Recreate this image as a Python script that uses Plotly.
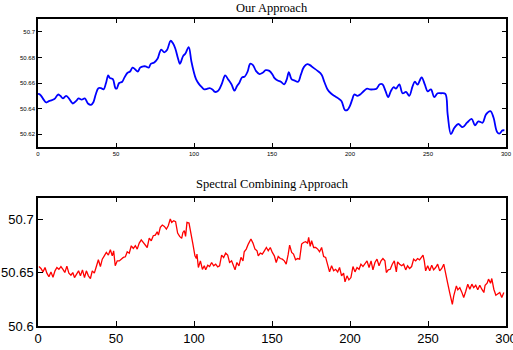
import plotly.graph_objects as go

# ---- Data ----
ours_x = [0, 0.6, 2, 3.6, 5.3, 7, 9, 11, 12.8, 14.3, 16, 18, 19.8, 22.3, 24.5, 26, 28, 30, 32, 34,
          35.5, 37, 38.7, 40.4, 42, 43.6, 45, 46, 48, 49.6, 50.4, 52, 54, 55.3, 57.4, 59, 60.6, 62,
          64, 65.5, 67.5, 69, 71, 72.3, 74.5, 76.6, 77, 79, 81, 82.8, 85, 86.5, 88, 89.8, 91, 93,
          94.5, 96.6, 98.3, 99.8, 101.3, 103, 105, 106.6, 108, 110, 111.8, 113.5, 115.6, 118, 120,
          121.8, 124, 126, 127.5, 129, 130.8, 132.5, 134.4, 136, 137.8, 139.7, 142, 144, 146, 148.3,
          150.4, 151.5, 153.6, 155.7, 157.8, 159.4, 160.8, 162.5, 164.3, 166.8, 168.5, 170.4, 172.6,
          174.3, 176.4, 179.2, 181.8, 183.5, 185.6, 187.7, 189.9, 192.5, 194.6, 196.7, 198.4, 199.9,
          201.4, 202.7, 204.8, 207, 209.1, 211, 212.7, 214.8, 217, 219.1, 220.8, 222.8, 224.5, 226.3,
          228, 229.5, 231.6, 233.7, 235.9, 238, 240.1, 241.6, 243.3, 245.9, 248, 249.8, 251.9, 254,
          256.2, 258.3, 261.1, 262.6, 264.7, 266.9, 269.4, 272.2, 275, 278, 280.1, 282.3, 285, 287.2,
          290, 292, 294.2, 295.7, 297.8, 299]
ours_y = [50.651, 50.6515, 50.650, 50.647, 50.6448, 50.6458, 50.6466, 50.648, 50.651, 50.650, 50.648,
          50.650, 50.648, 50.644, 50.646, 50.648, 50.647, 50.648, 50.644, 50.643, 50.645, 50.651,
          50.656, 50.656, 50.655, 50.660, 50.666, 50.664, 50.663, 50.656, 50.6556, 50.660, 50.661,
          50.664, 50.668, 50.669, 50.672, 50.671, 50.669, 50.672, 50.673, 50.673, 50.672, 50.675,
          50.676, 50.679, 50.680, 50.686, 50.684, 50.686, 50.693, 50.691, 50.687, 50.679, 50.675,
          50.681, 50.683, 50.688, 50.677, 50.669, 50.663, 50.6595, 50.6567, 50.655, 50.6553, 50.656,
          50.655, 50.653, 50.654, 50.660, 50.666, 50.663, 50.659, 50.654, 50.6575, 50.660, 50.6644,
          50.665, 50.669, 50.675, 50.674, 50.6695, 50.667, 50.668, 50.670, 50.6695, 50.6665, 50.664,
          50.662, 50.661, 50.659, 50.6626, 50.6685, 50.663, 50.662, 50.661, 50.6665, 50.6724, 50.6747,
          50.674, 50.672, 50.6695, 50.6665, 50.661, 50.655, 50.652, 50.650, 50.648, 50.6458, 50.639,
          50.639, 50.642, 50.647, 50.651, 50.650, 50.6515, 50.654, 50.6556, 50.655, 50.655, 50.6556,
          50.659, 50.659, 50.6536, 50.649, 50.654, 50.6567, 50.6556, 50.659, 50.652, 50.653, 50.650,
          50.6574, 50.661, 50.6587, 50.6644, 50.6587, 50.6535, 50.655, 50.649, 50.652, 50.652,
          50.6515, 50.6355, 50.620, 50.625, 50.628, 50.6255, 50.629, 50.632, 50.627, 50.630, 50.629,
          50.6355, 50.638, 50.633, 50.622, 50.6205, 50.623, 50.623]

spec_x = [0.6, 1.9, 3.2, 4.5, 5.7, 7, 8.3, 9.6, 10.9, 12.1, 13.4, 14.7, 16, 17.2, 18.5, 19.8, 21.1,
          22.3, 23.4, 24.7, 26, 27.2, 28.5, 29.8, 31, 32.3, 33.6, 34.8, 36.1, 37.4, 38.7, 40, 41.2,
          42.5, 43.8, 45.1, 46.4, 47.6, 48.5, 49.5, 50.8, 52.1, 53.4, 54.7, 56, 57.2, 58.5, 59.8,
          61.1, 62.4, 63.6, 64.9, 66.2, 67.5, 68.7, 70, 71.3, 72.6, 73.9, 75.2, 76.4, 77.2, 78.4,
          79.7, 81, 82.3, 83.5, 84.8, 85.7, 87, 88.2, 89.5, 90.8, 92.1, 92.9, 93.8, 94.6, 95.5, 96.8,
          98, 99.3, 100.6, 101.5, 101.9, 102.8, 104.1, 105.4, 106.6, 107.5, 108.8, 110, 111.3, 112.6,
          113.9, 115.2, 116.4, 117.7, 119, 120.3, 121.6, 122.8, 124.1, 125, 126.3, 127.5, 128.8,
          130.1, 131.4, 132.2, 133.5, 134.8, 136.5, 137.8, 139.1, 140.4, 141.2, 142.5, 143.8, 145.1,
          146.4, 147.6, 148.9, 150.2, 151.5, 152.7, 154, 155.3, 156.6, 157.9, 159.1, 160.4, 161.3,
          162.6, 163.8, 165.1, 166.4, 167.7, 169, 170.2, 171.5, 172.8, 173.5, 174.5, 175.4, 176.7,
          178, 179.3, 180.5, 181.8, 183.1, 184.4, 185.7, 186.9, 188.2, 189.5, 190.8, 192.1, 193.3,
          194.6, 195.9, 196.8, 198.1, 199.3, 200.6, 201.9, 203.2, 204.5, 205.8, 207, 208.3, 209.6,
          210.9, 212.2, 213.5, 214.7, 216, 217.3, 218.6, 219.9, 221.1, 222.4, 223.3, 224.5, 225.8,
          227.1, 228.4, 229.7, 230.5, 231.8, 233.1, 234.4, 235.7, 236.9, 238.2, 239.5, 240.8, 242.1,
          243.3, 244.6, 245.9, 246.8, 247.6, 248.5, 249.8, 251.1, 252.4, 253.6, 254.9, 256.2, 257.5,
          258.8, 260.1, 261.4, 262.6, 263.9, 264.8, 265.6, 266.5, 267.3, 268.2, 269.1, 270.4, 271.6,
          272.9, 274.2, 275.5, 276.8, 278.1, 279.3, 280.6, 281.9, 283.2, 284.5, 285.8, 286.6, 287.9,
          288.8, 290.1, 290.9, 292.2, 293.5, 294.8, 296, 297.3, 298.6]
spec_y = [50.6556, 50.6538, 50.6506, 50.6547, 50.6494, 50.646, 50.6506, 50.6456, 50.6516, 50.6547,
          50.653, 50.6556, 50.653, 50.650, 50.656, 50.6494, 50.6475, 50.650, 50.6453, 50.6484,
          50.6516, 50.6469, 50.6525, 50.6453, 50.6516, 50.6469, 50.6444, 50.6516, 50.6494, 50.6556,
          50.6619, 50.6556, 50.6625, 50.6656, 50.6688, 50.6663, 50.6713, 50.6656, 50.6703, 50.6563,
          50.6609, 50.6609, 50.6625, 50.6641, 50.6647, 50.6694, 50.6681, 50.675, 50.6725, 50.675,
          50.6719, 50.6775, 50.6806, 50.6781, 50.675, 50.6734, 50.6822, 50.6797, 50.6844, 50.685,
          50.6881, 50.685, 50.6922, 50.6944, 50.6931, 50.6906, 50.6938, 50.700, 50.6969, 50.6984,
          50.6975, 50.6869, 50.6838, 50.6819, 50.6875, 50.6891, 50.6838, 50.6969, 50.6963, 50.685,
          50.6766, 50.6656, 50.6631, 50.6672, 50.6547, 50.6609, 50.653, 50.6563, 50.6525, 50.6569,
          50.6556, 50.6594, 50.6563, 50.6578, 50.6553, 50.6563, 50.6663, 50.6641, 50.6681, 50.6663,
          50.6594, 50.6609, 50.6569, 50.6525, 50.6594, 50.6563, 50.6641, 50.6609, 50.6694, 50.6719,
          50.6766, 50.6813, 50.6775, 50.6719, 50.6703, 50.6656, 50.6681, 50.6672, 50.6703, 50.6734,
          50.6703, 50.6734, 50.6688, 50.6656, 50.6594, 50.665, 50.6631, 50.6625, 50.6609, 50.6578,
          50.6672, 50.6756, 50.6688, 50.6672, 50.6619, 50.6631, 50.6625, 50.6766, 50.6781, 50.6788,
          50.6775, 50.6828, 50.6744, 50.6797, 50.6734, 50.6734, 50.6719, 50.6694, 50.6734, 50.665,
          50.6641, 50.6569, 50.6506, 50.6563, 50.6516, 50.653, 50.6506, 50.6547, 50.6469, 50.6494,
          50.6413, 50.6469, 50.6431, 50.6453, 50.6556, 50.6506, 50.6547, 50.653, 50.6578, 50.6556,
          50.6578, 50.6609, 50.6547, 50.6609, 50.6525, 50.6594, 50.6625, 50.6563, 50.6609, 50.6631,
          50.6609, 50.650, 50.6525, 50.653, 50.6578, 50.6609, 50.6506, 50.660, 50.6578, 50.6563,
          50.6578, 50.6525, 50.6563, 50.6538, 50.6556, 50.6625, 50.6609, 50.6631, 50.6619, 50.665,
          50.6663, 50.6609, 50.6516, 50.6563, 50.6516, 50.6569, 50.6525, 50.6547, 50.6578, 50.6516,
          50.6538, 50.6578, 50.650, 50.640, 50.6313, 50.625, 50.6203, 50.6281, 50.6338, 50.6375,
          50.6338, 50.6359, 50.6319, 50.6266, 50.6325, 50.6391, 50.6344, 50.6391, 50.6359, 50.6381,
          50.6338, 50.6381, 50.6344, 50.6313, 50.6381, 50.640, 50.6438, 50.640, 50.6444, 50.6344,
          50.6288, 50.6306, 50.6313, 50.6266, 50.6313]

top_title = "Our Approach"
bottom_title = "Spectral Combining Approach"
x_ticks = [0, 50, 100, 150, 200, 250, 300]
top_y_ticks = [50.62, 50.64, 50.66, 50.68, 50.7]
top_y_labels = ["50.62", "50.64", "50.66", "50.68", "50.7"]
bottom_y_ticks = [50.6, 50.65, 50.7]
bottom_y_labels = ["50.6", "50.65", "50.7"]

fig = go.Figure()
fig.add_trace(go.Scatter(x=ours_x, y=ours_y, mode="lines", line=dict(color="#0000ff", width=1.8),
                         xaxis="x", yaxis="y", showlegend=False, line_shape="spline"))
fig.add_trace(go.Scatter(x=spec_x, y=spec_y, mode="lines", line=dict(color="#ff0000", width=1.3),
                         xaxis="x2", yaxis="y2", showlegend=False))

axis_common = dict(showgrid=False, zeroline=False, showline=True, linecolor="black", linewidth=1.5,
                   mirror="ticks", ticks="inside", tickcolor="black", tickwidth=1, automargin=False,
                   ticklabeloverflow="allow")

serif = "Liberation Serif, Times New Roman, serif"

fig.update_layout(
    width=513, height=350,
    margin=dict(l=38, r=7, t=19, b=24),
    paper_bgcolor="white", plot_bgcolor="white",
    font=dict(family="Liberation Sans, Arial, sans-serif", color="black"),
    xaxis=dict(domain=[0, 1], range=[0, 300], tickvals=x_ticks, ticklen=4,
               tickfont=dict(size=6), anchor="y", **axis_common),
    yaxis=dict(domain=[0.583, 1], range=[50.61, 50.71], tickvals=top_y_ticks, ticktext=top_y_labels,
               ticklen=4, tickfont=dict(size=6), anchor="x", **axis_common),
    xaxis2=dict(domain=[0, 1], range=[0, 300], tickvals=x_ticks, ticklen=5,
                tickfont=dict(size=13), anchor="y2", **axis_common),
    yaxis2=dict(domain=[0, 0.418], range=[50.6, 50.72], tickvals=bottom_y_ticks,
                ticktext=bottom_y_labels, ticklen=5, tickfont=dict(size=13), anchor="x2", **axis_common),
    annotations=[
        dict(text=top_title, x=0.5, y=1, xref="paper", yref="paper", xanchor="center", yanchor="bottom",
             yshift=2, showarrow=False, font=dict(family=serif, size=12.5)),
        dict(text=bottom_title, x=0.5, y=0.418, xref="paper", yref="paper", xanchor="center",
             yanchor="bottom", yshift=5, showarrow=False, font=dict(family=serif, size=12.5)),
    ],
)

fig.write_html("out.html")
